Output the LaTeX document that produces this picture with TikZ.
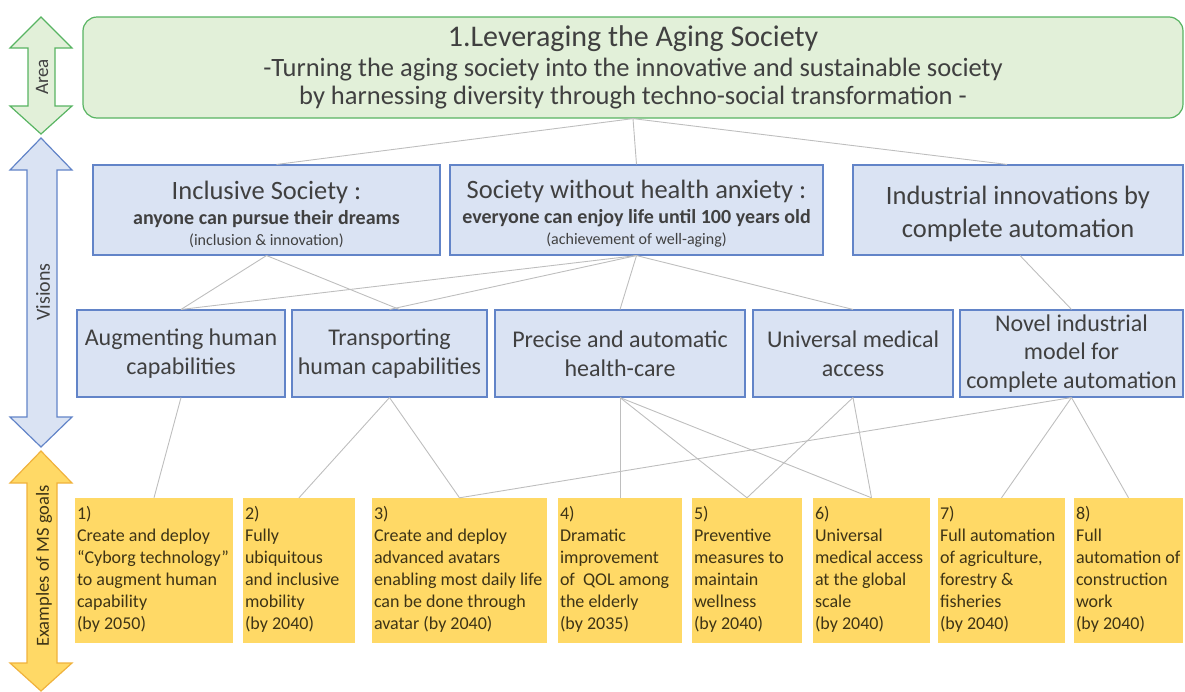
\documentclass[tikz,border=0pt]{standalone}
\usepackage{fontspec}
\setmainfont{Carlito}
\usetikzlibrary{calc}

\definecolor{areafill}{HTML}{E2F0D9}
\definecolor{arealine}{RGB}{88,180,98}
\definecolor{visfill}{HTML}{DAE3F3}
\definecolor{visline}{RGB}{98,132,200}
\definecolor{goalfill}{HTML}{FFD966}
\definecolor{goalline}{RGB}{240,178,60}
\definecolor{linkgray}{RGB}{190,190,190}
\definecolor{boxtext}{RGB}{64,64,64}
\definecolor{goaltext}{RGB}{62,52,22}

\tikzset{
  areabox/.style={draw=arealine, fill=areafill, line width=1.2pt, rounded corners=14pt,
    text=boxtext, align=center, inner sep=0pt},
  visbox/.style={draw=visline, fill=visfill, line width=1.1pt, text=boxtext,
    align=center, inner sep=0pt},
  vistxt/.style={text=boxtext, align=center, inner sep=0pt},
  goalbox/.style={fill=goalfill, inner sep=0pt, minimum height=145pt},
  goaltxt/.style={anchor=north west, inner sep=0pt, text=goaltext, align=left,
    font=\fontsize{18}{22}\selectfont},
  link/.style={draw=linkgray, line width=0.9pt},
  arealabel/.style={rotate=90, text=boxtext},
  midfont/.style={font=\fontsize{24}{29}\selectfont},
}

\begin{document}
\begin{tikzpicture}[x=1pt,y=-1pt]
\useasboundingbox (0,0) rectangle (1185,691);

% ---- level arrows on the left ----
\draw[draw=arealine, fill=areafill, line width=1.2pt, line join=miter]
  (41,17) -- (72,48) -- (55,48) -- (55,106) -- (72,106) -- (41,134)
  -- (10,106) -- (28,106) -- (28,48) -- (10,48) -- cycle;
\node[arealabel, font=\fontsize{19}{21}\selectfont] (lblarea) at (42,77) {Area};

\draw[draw=visline, fill=visfill, line width=1.2pt, line join=miter]
  (41,138) -- (72,170) -- (57,170) -- (57,417) -- (72,417) -- (41,447)
  -- (10,417) -- (27,417) -- (27,170) -- (10,170) -- cycle;
\node[arealabel, font=\fontsize{20}{22}\selectfont] (lblvis) at (43,292) {Visions};

\draw[draw=goalline, fill=goalfill, line width=1.2pt, line join=miter]
  (41,451) -- (72,483) -- (57,483) -- (57,663) -- (72,663) -- (41,691)
  -- (10,663) -- (27,663) -- (27,483) -- (10,483) -- cycle;
\node[arealabel, text=goaltext, font=\fontsize{18.5}{20}\selectfont] (lblgoal) at (44,566) {Examples of MS goals};

% ---- area ----
\node[areabox, minimum width=1100pt, minimum height=101pt,
      font=\fontsize{26.5}{28.5}\selectfont] (area) at (633,67.5)
  {{\fontsize{30}{30}\selectfont 1.Leveraging the Aging Society}\\[1pt]
   -Turning the aging society into the innovative and sustainable society\\
   by harnessing diversity through techno-social transformation -};

% ---- visions ----
\node[visbox, minimum width=347pt, minimum height=90pt] (incl) at (266.5,210) {};
\node[vistxt, font=\fontsize{20}{23}\selectfont] (incltext) at ($(incl.center)+(0,4)$)
  {{\fontsize{26.5}{26}\selectfont Inclusive Society :}\\[2pt]
   {\bfseries anyone can pursue their dreams}\\[-2pt]
   {\fontsize{16}{16}\selectfont (inclusion \& innovation)}};
\node[visbox, minimum width=373pt, minimum height=90pt] (health) at (636.5,210) {};
\node[vistxt, font=\fontsize{20}{23}\selectfont] (healthtext) at ($(health.center)+(0,4)$)
  {{\fontsize{26.5}{26}\selectfont Society without health anxiety :}\\[2pt]
   {\bfseries everyone can enjoy life until 100 years old}\\[-2pt]
   {\fontsize{16}{16}\selectfont (achievement of well-aging)}};
\node[visbox, minimum width=330pt, minimum height=90pt] (indus) at (1018,210) {};
\node[vistxt, font=\fontsize{26.5}{32.5}\selectfont] (industext) at ($(indus.center)+(0,4)$)
  {Industrial innovations by\\complete automation};

% ---- targets ----
\node[visbox, midfont, minimum width=208pt, minimum height=87pt] (aug) at (181,353.5)
  {Augmenting human\\capabilities};
\node[visbox, midfont, minimum width=195pt, minimum height=87pt] (trans) at (389.5,353.5)
  {Transporting\\human capabilities};
\node[visbox, midfont, minimum width=250pt, minimum height=87pt] (prec) at (620,353.5)
  {Precise and automatic\\health-care};
\node[visbox, midfont, minimum width=200pt, minimum height=87pt] (univ) at (853,353.5)
  {Universal medical\\access};
\node[visbox, font=\fontsize{24}{28.5}\selectfont, minimum width=223pt, minimum height=87pt] (novel) at (1071.5,353.5)
  {Novel industrial\\model for\\complete automation};

% ---- goals ----
\node[goalbox, minimum width=158pt] (g1) at (154,570.5) {};
\node[goalbox, minimum width=112pt] (g2) at (299,570.5) {};
\node[goalbox, minimum width=175pt] (g3) at (459.5,570.5) {};
\node[goalbox, minimum width=124pt] (g4) at (620,570.5) {};
\node[goalbox, minimum width=110pt] (g5) at (747,570.5) {};
\node[goalbox, minimum width=117pt] (g6) at (871.5,570.5) {};
\node[goalbox, minimum width=127pt] (g7) at (1001.5,570.5) {};
\node[goalbox, minimum width=109pt] (g8) at (1128.5,570.5) {};

\node[goaltxt] (t1) at ($(g1.north west)+(2,8.5)$)
  {1)\\Create and deploy\\``Cyborg technology''\\to augment human\\capability\\(by 2050)};
\node[goaltxt] (t2) at ($(g2.north west)+(2,8.5)$)
  {2)\\Fully\\ubiquitous\\and inclusive\\mobility\\(by 2040)};
\node[goaltxt] (t3) at ($(g3.north west)+(2,8.5)$)
  {3)\\Create and deploy\\advanced avatars\\enabling most daily life\\can be done through\\avatar (by 2040)};
\node[goaltxt] (t4) at ($(g4.north west)+(2,8.5)$)
  {4)\\Dramatic\\improvement\\of~ QOL among\\the elderly\\(by 2035)};
\node[goaltxt] (t5) at ($(g5.north west)+(2,8.5)$)
  {5)\\Preventive\\measures to\\maintain\\wellness\\(by 2040)};
\node[goaltxt] (t6) at ($(g6.north west)+(2,8.5)$)
  {6)\\Universal\\medical access\\at the global\\scale\\(by 2040)};
\node[goaltxt] (t7) at ($(g7.north west)+(2,8.5)$)
  {7)\\Full automation\\of agriculture,\\forestry \&\\fisheries\\(by 2040)};
\node[goaltxt] (t8) at ($(g8.north west)+(2,8.5)$)
  {8)\\Full\\automation of\\construction\\work\\(by 2040)};

% ---- links: area to visions ----
\draw[link] (area.south) -- ($(incl.north)+(10,0)$);
\draw[link] (area.south) -- (health.north);
\draw[link] (area.south) -- ($(indus.north)+(-11,0)$);

% ---- links: visions to targets ----
\draw[link] (incl.south) -- (aug.north);
\draw[link] (incl.south) -- ($(trans.north)+(10,0)$);
\draw[link] (health.south) -- (aug.north);
\draw[link] (health.south) -- (trans.north);
\draw[link] (health.south) -- (prec.north);
\draw[link] (health.south) -- (univ.north);
\draw[link] ($(indus.south)+(2,0)$) -- (novel.north);

% ---- links: targets to goals ----
\draw[link] (aug.south) -- (g1.north);
\draw[link] (trans.south) -- (g2.north);
\draw[link] (trans.south) -- (g3.north);
\draw[link] (prec.south) -- (g4.north);
\draw[link] (prec.south) -- (g5.north);
\draw[link] (prec.south) -- (g6.north);
\draw[link] (univ.south) -- (g5.north);
\draw[link] (univ.south) -- (g6.north);
\draw[link] (novel.south) -- (g3.north);
\draw[link] (novel.south) -- (g7.north);
\draw[link] (novel.south) -- (g8.north);
\end{tikzpicture}
\end{document}
